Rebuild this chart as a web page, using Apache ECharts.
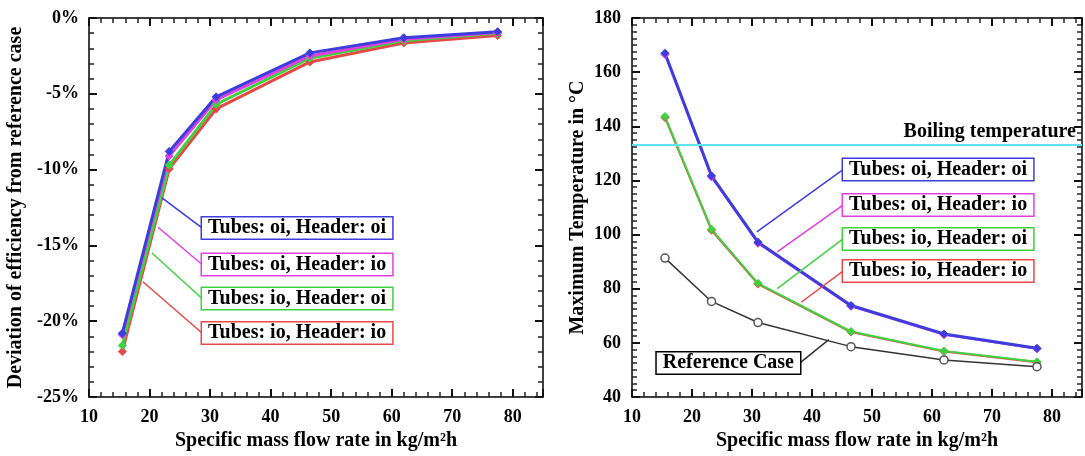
<!DOCTYPE html>
<html>
<head>
<meta charset="utf-8">
<script src="https://cdn.jsdelivr.net/npm/echarts@6/dist/echarts.min.js"></script>
<style>
html,body{margin:0;padding:0;background:#fff;}
#c{width:1085px;height:456px;}
</style>
</head>
<body>
<div id="c"></div>
<script>
// ---------- data ----------
const xFlow = [15.5, 23.25, 31, 46.5, 62, 77.5];
const xTicks = [10, 20, 30, 40, 50, 60, 70, 80];

// Left: deviation of efficiency from reference case (%)
const effOiOi = [-20.8, -8.8, -5.2, -2.3, -1.3, -0.9];
const effOiIo = [-20.9, -9.1, -5.4, -2.5, -1.4, -0.95];
const effIoOi = [-21.6, -9.7, -5.7, -2.65, -1.5, -1.0];
const effIoIo = [-22.0, -9.95, -6.0, -2.9, -1.65, -1.15];
const effTicks = [0, -5, -10, -15, -20, -25];

// Right: maximum temperature (°C)
const tempOiOi = [167, 121.7, 97.2, 73.8, 63.3, 58];
const tempOiIo = [166.5, 121.3, 96.8, 73.5, 63, 57.8];
const tempIoOi = [143.6, 102, 82, 64.2, 57, 53];
const tempIoIo = [143.2, 101.6, 81.7, 64, 56.8, 52.8];
const tempRef = [91.3, 75.3, 67.5, 58.6, 53.7, 51.2];
const tempTicks = [40, 60, 80, 100, 120, 140, 160, 180];
const boilingTemp = 133;

const seriesNames = ['Tubes: oi, Header: oi', 'Tubes: oi, Header: io', 'Tubes: io, Header: oi', 'Tubes: io, Header: io'];
const refName = 'Reference Case';

// ---------- styling / annotation placement ----------
const FONT = 'Liberation Serif';
const colors = ['#3d3dde', '#e040e0', '#3fd23f', '#e84848'];
const refColor = '#333333';
const cyan = '#5fe3f0';

// annotation anchors (data coords): [leader start, box left-middle]
const effLeaders = [
  [[22.06, -11.87], [28.67, -13.85]],
  [[21.4, -13.8], [28.67, -16.26]],
  [[20.4, -15.5], [28.67, -18.5]],
  [[18.9, -17.4], [28.67, -20.78]]
];
const tempLeaders = [
  [[30.8, 101], [45.17, 124.0]],
  [[34.2, 93.6], [45.17, 110.9]],
  [[34.2, 80], [45.17, 98.4]],
  [[38.2, 75], [45.17, 86.5]]
];
const refLeader = [[42.8, 61.2], [38.0, 52.6]];

function xyPairs(xs, ys) { return xs.map((x, i) => [x, ys[i]]); }

function makeAxis(type, gridIndex, position, min, max, interval, showLabel, extra) {
  return Object.assign({
    type: 'value', gridIndex, position, min, max, interval,
    axisLine: {show: true, onZero: false, lineStyle: {color: '#000', width: 1.5}},
    axisTick: {show: true, inside: true, length: 8, lineStyle: {color: '#111', width: 2}},
    minorTick: {show: true, splitNumber: type === 'ty' ? 8 : 5, length: 5, lineStyle: {color: '#222', width: 1.5}},
    splitLine: {show: false},
    axisLabel: {show: showLabel, color: '#000', fontFamily: FONT, fontWeight: 'bold', fontSize: 18, margin: 11, showMaxLabel: type === 'x' ? false : true},
    nameTextStyle: {color: '#000', fontFamily: FONT, fontWeight: 'bold', fontSize: 20}
  }, extra || {});
}

const boxLabel = (text, color, pos) => ({
  show: true, position: pos || 'right', distance: 0, formatter: text,
  color: '#000', fontFamily: FONT, fontWeight: 'bold', fontSize: 20,
  backgroundColor: '#fff', borderColor: color, borderWidth: 1.5,
  padding: [1, 6, 0, 6], lineHeight: 20
});

function lineSeries(name, xi, yi, ys, color, width, leader, symbol) {
  return {
    name, type: 'line', xAxisIndex: xi, yAxisIndex: yi,
    data: xyPairs(xFlow, ys),
    symbol: symbol || 'diamond', symbolSize: 8,
    showSymbol: true,
    lineStyle: {color, width},
    itemStyle: {color, borderColor: color},
    markLine: {
      silent: true, symbol: 'none', animation: false,
      lineStyle: {color, width: 1.5, type: 'solid'},
      label: {show: false},
      data: [[{coord: leader[0]}, {coord: leader[1]}]]
    },
    markPoint: {
      silent: true, animation: false, symbol: 'rect', symbolSize: 0,
      data: [{coord: leader[1], label: boxLabel(name, color)}]
    },
    animation: false
  };
}

const series = [];
// left plot (draw red first so blue on top)
[3, 2, 1, 0].forEach(i => {
  const ys = [effOiOi, effOiIo, effIoOi, effIoIo][i];
  series.push(lineSeries(seriesNames[i], 0, 0, ys, colors[i], 3, effLeaders[i]));
});
// right plot
[1, 3, 2, 0].forEach(i => {
  const ys = [tempOiOi, tempOiIo, tempIoOi, tempIoIo][i];
  series.push(lineSeries(seriesNames[i], 2, 2, ys, colors[i], i === 0 ? 3 : 2, tempLeaders[i]));
});
// reference case
const refS = lineSeries(refName, 2, 2, tempRef, refColor, 1.5, refLeader, 'circle');
refS.itemStyle = {color: '#fff', borderColor: '#555', borderWidth: 1.5};
refS.symbolSize = 8;
refS.markPoint.data = [{coord: refLeader[1], label: boxLabel(refName, '#000', 'left')}];
series.push(refS);
// boiling line
series.push({
  type: 'line', xAxisIndex: 2, yAxisIndex: 2, data: [], animation: false,
  markLine: {
    silent: true, symbol: 'none', animation: false,
    lineStyle: {color: cyan, width: 2, type: 'solid'},
    label: {show: true, position: 'insideEndTop', formatter: 'Boiling temperature',
      color: '#000', fontFamily: FONT, fontWeight: 'bold', fontSize: 20, distance: [6, 3]},
    data: [{yAxis: boilingTemp}]
  }
});

const option = {
  backgroundColor: '#fff',
  animation: false,
  grid: [
    {left: 89, right: 542, top: 18, bottom: 59},
    {left: 632, right: 3, top: 18, bottom: 59}
  ],
  xAxis: [
    makeAxis('x', 0, 'bottom', xTicks[0], 85, 10, true, {name: 'Specific mass flow rate in kg/m²h', nameLocation: 'middle', nameGap: 33}),
    makeAxis('x', 0, 'top', xTicks[0], 85, 10, false),
    makeAxis('x', 1, 'bottom', xTicks[0], 85, 10, true, {name: 'Specific mass flow rate in kg/m²h', nameLocation: 'middle', nameGap: 33}),
    makeAxis('x', 1, 'top', xTicks[0], 85, 10, false)
  ],
  yAxis: [
    makeAxis('y', 0, 'left', effTicks[effTicks.length - 1], effTicks[0], 5, true, {
      name: 'Deviation of efficiency from reference case', nameLocation: 'middle', nameGap: 63, nameRotate: 90,
      axisLabel: {show: true, color: '#000', fontFamily: FONT, fontWeight: 'bold', fontSize: 18, margin: 10, formatter: v => v + '%'}
    }),
    makeAxis('y', 0, 'right', effTicks[effTicks.length - 1], effTicks[0], 5, false),
    makeAxis('ty', 1, 'left', tempTicks[0], tempTicks[tempTicks.length - 1], 20, true, {
      name: 'Maximum Temperature in °C', nameLocation: 'middle', nameGap: 44, nameRotate: 90
    }),
    makeAxis('ty', 1, 'right', tempTicks[0], tempTicks[tempTicks.length - 1], 20, false)
  ],
  series
};

const chart = echarts.init(document.getElementById('c'), null, {renderer: 'canvas'});
chart.setOption(option);
</script>
</body>
</html>
